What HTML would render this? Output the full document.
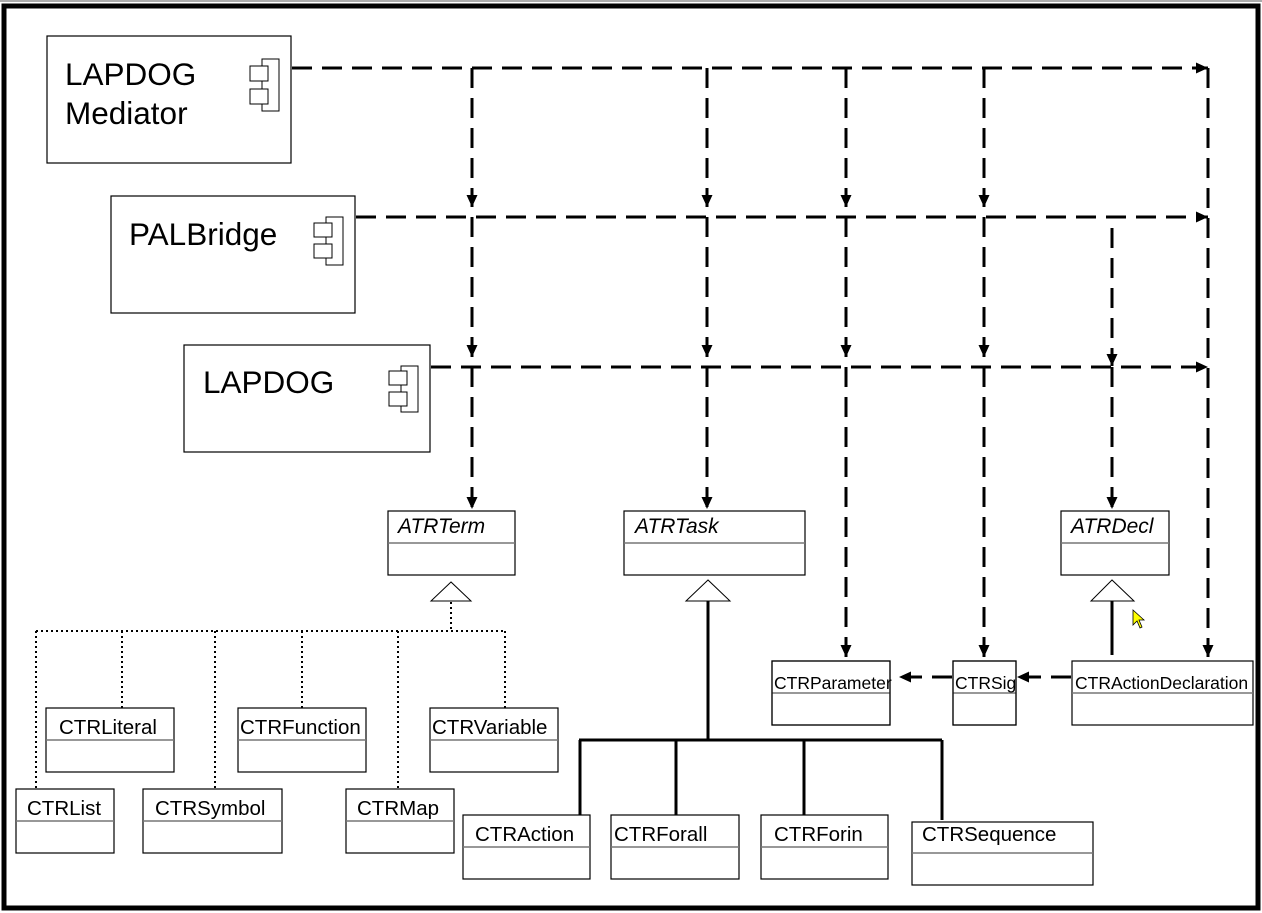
<!DOCTYPE html>
<html><head><meta charset="utf-8"><style>
html,body{margin:0;padding:0;background:#fff;width:1262px;height:913px;overflow:hidden}
svg{display:block}
text{font-family:"Liberation Sans",Arial,sans-serif;fill:#000}
</style></head><body>
<svg width="1262" height="913" viewBox="0 0 1262 913" xmlns="http://www.w3.org/2000/svg">
<defs>
<marker id="ah" markerWidth="12" markerHeight="12" refX="12" refY="5.5" orient="auto" markerUnits="userSpaceOnUse">
<path d="M0,0 L12,5.5 L0,11 z" fill="#000"/></marker>
</defs>
<rect x="0" y="0" width="1262" height="913" fill="#fff"/>
<rect x="0" y="0" width="1262" height="2" fill="#aaa"/>
<rect x="4" y="6" width="1254" height="902" fill="none" stroke="#000" stroke-width="5"/>

<g fill="#fff" stroke="#000" stroke-width="1.2">
<rect x="47" y="36" width="244" height="127"/>
<rect x="111" y="196" width="244" height="117"/>
<rect x="184" y="345" width="246" height="107"/>
</g>
<g fill="#fff" stroke="#000" stroke-width="1">
<rect x="262" y="59" width="17" height="52"/><rect x="250" y="66" width="18" height="15"/><rect x="250" y="89" width="18" height="15"/>
<rect x="326" y="217" width="17" height="48"/><rect x="314" y="223" width="18" height="14"/><rect x="314" y="244" width="18" height="14"/>
<rect x="401" y="366" width="17" height="46"/><rect x="389" y="371" width="18" height="14"/><rect x="389" y="392" width="18" height="14"/>
</g>
<text x="65" y="85" font-size="31.5">LAPDOG</text>
<text x="65" y="124" font-size="31.5">Mediator</text>
<text x="129" y="245" font-size="31.5">PALBridge</text>
<text x="203" y="393" font-size="31.5">LAPDOG</text>

<g stroke="#000" stroke-width="3" fill="none" stroke-dasharray="20,10">
<line x1="292" y1="68" x2="1208" y2="68" marker-end="url(#ah)"/>
<line x1="356" y1="217" x2="1208" y2="217" marker-end="url(#ah)"/>
<line x1="431" y1="367" x2="1208" y2="367" marker-end="url(#ah)"/>
<line x1="472" y1="68" x2="472" y2="207" marker-end="url(#ah)"/>
<line x1="707" y1="68" x2="707" y2="207" marker-end="url(#ah)"/>
<line x1="846" y1="68" x2="846" y2="207" marker-end="url(#ah)"/>
<line x1="984" y1="68" x2="984" y2="207" marker-end="url(#ah)"/>
<line x1="472" y1="217" x2="472" y2="357" marker-end="url(#ah)"/>
<line x1="707" y1="217" x2="707" y2="357" marker-end="url(#ah)"/>
<line x1="846" y1="217" x2="846" y2="357" marker-end="url(#ah)"/>
<line x1="984" y1="217" x2="984" y2="357" marker-end="url(#ah)"/>
<line x1="1112" y1="228" x2="1112" y2="366" marker-end="url(#ah)"/>
<line x1="472" y1="367" x2="472" y2="509" marker-end="url(#ah)"/>
<line x1="707" y1="367" x2="707" y2="509" marker-end="url(#ah)"/>
<line x1="1112" y1="367" x2="1112" y2="509" marker-end="url(#ah)"/>
<line x1="846" y1="367" x2="846" y2="657" marker-end="url(#ah)"/>
<line x1="984" y1="367" x2="984" y2="657" marker-end="url(#ah)"/>
<line x1="1208" y1="68" x2="1208" y2="657" marker-end="url(#ah)"/>
<line x1="952" y1="677" x2="899" y2="677" marker-end="url(#ah)"/>
<line x1="1071" y1="677" x2="1017" y2="677" marker-end="url(#ah)"/>
</g>

<g stroke="#000" stroke-width="2" fill="none" stroke-dasharray="2,3">
<line x1="451" y1="602" x2="451" y2="631"/>
<line x1="36" y1="631" x2="505" y2="631"/>
<line x1="36" y1="631" x2="36" y2="789"/>
<line x1="122" y1="631" x2="122" y2="708"/>
<line x1="215" y1="631" x2="215" y2="789"/>
<line x1="302" y1="631" x2="302" y2="708"/>
<line x1="398" y1="631" x2="398" y2="789"/>
<line x1="505" y1="631" x2="505" y2="708"/>
</g>
<g stroke="#000" stroke-width="3" fill="none">
<line x1="708" y1="601" x2="708" y2="740"/>
<line x1="579" y1="740" x2="942" y2="740"/>
<line x1="580" y1="740" x2="580" y2="815"/>
<line x1="676" y1="740" x2="676" y2="815"/>
<line x1="804" y1="740" x2="804" y2="815"/>
<line x1="942" y1="740" x2="942" y2="820"/>
<line x1="1112" y1="601" x2="1112" y2="655"/>
</g>
<g fill="#fff" stroke="#000" stroke-width="1">
<polygon points="451,582 431,601 471,601"/>
<polygon points="708,580 686,601 730,601"/>
<polygon points="1112,580 1091,601 1134,601"/>
</g>

<g fill="#fff" stroke="#000" stroke-width="1.2">
<rect x="388" y="511" width="127" height="64"/>
<rect x="624" y="511" width="181" height="64"/>
<rect x="1061" y="511" width="108" height="64"/>
<rect x="46" y="708" width="128" height="64"/>
<rect x="238" y="708" width="128" height="64"/>
<rect x="430" y="708" width="128" height="64"/>
<rect x="16" y="789" width="98" height="64"/>
<rect x="143" y="789" width="139" height="64"/>
<rect x="346" y="789" width="108" height="64"/>
<rect x="463" y="815" width="127" height="64"/>
<rect x="611" y="815" width="128" height="64"/>
<rect x="761" y="815" width="127" height="64"/>
<rect x="912" y="822" width="181" height="63"/>
<rect x="772" y="661" width="118" height="64"/>
<rect x="953" y="661" width="63" height="64"/>
<rect x="1072" y="661" width="181" height="64"/>
</g>
<g stroke="#777" stroke-width="1.5">
<line x1="388" y1="543" x2="515" y2="543"/>
<line x1="624" y1="543" x2="805" y2="543"/>
<line x1="1061" y1="543" x2="1169" y2="543"/>
<line x1="46" y1="740" x2="174" y2="740"/>
<line x1="238" y1="740" x2="366" y2="740"/>
<line x1="430" y1="740" x2="558" y2="740"/>
<line x1="16" y1="821" x2="114" y2="821"/>
<line x1="143" y1="821" x2="282" y2="821"/>
<line x1="346" y1="821" x2="454" y2="821"/>
<line x1="463" y1="847" x2="590" y2="847"/>
<line x1="611" y1="847" x2="739" y2="847"/>
<line x1="761" y1="847" x2="888" y2="847"/>
<line x1="912" y1="853" x2="1093" y2="853"/>
<line x1="772" y1="693" x2="890" y2="693"/>
<line x1="953" y1="693" x2="1016" y2="693"/>
<line x1="1072" y1="693" x2="1253" y2="693"/>
</g>
<g font-size="21" font-style="italic">
<text x="398" y="533">ATRTerm</text>
<text x="635" y="533">ATRTask</text>
<text x="1071" y="533">ATRDecl</text>
</g>
<g font-size="20.5">
<text x="59" y="734">CTRLiteral</text>
<text x="240" y="734">CTRFunction</text>
<text x="432" y="734">CTRVariable</text>
<text x="27" y="815">CTRList</text>
<text x="155" y="815">CTRSymbol</text>
<text x="357" y="815">CTRMap</text>
<text x="475" y="841">CTRAction</text>
<text x="614" y="841">CTRForall</text>
<text x="774" y="841">CTRForin</text>
<text x="922" y="841">CTRSequence</text>
</g>
<g font-size="17.5">
<text x="774" y="689">CTRParameter</text>
<text x="955" y="689">CTRSig</text>
<text x="1075" y="689">CTRActionDeclaration</text>
</g>
<rect x="953" y="661" width="63" height="64" fill="none" stroke="#000" stroke-width="1.2"/>
<rect x="772" y="661" width="118" height="64" fill="none" stroke="#000" stroke-width="1.2"/>
<path d="M1133,610 L1133,625 L1137,621 L1140,628 L1142,627 L1139,620 L1144,620 z" fill="#ff0" stroke="#000" stroke-width="0.8"/>
</svg>
</body></html>
